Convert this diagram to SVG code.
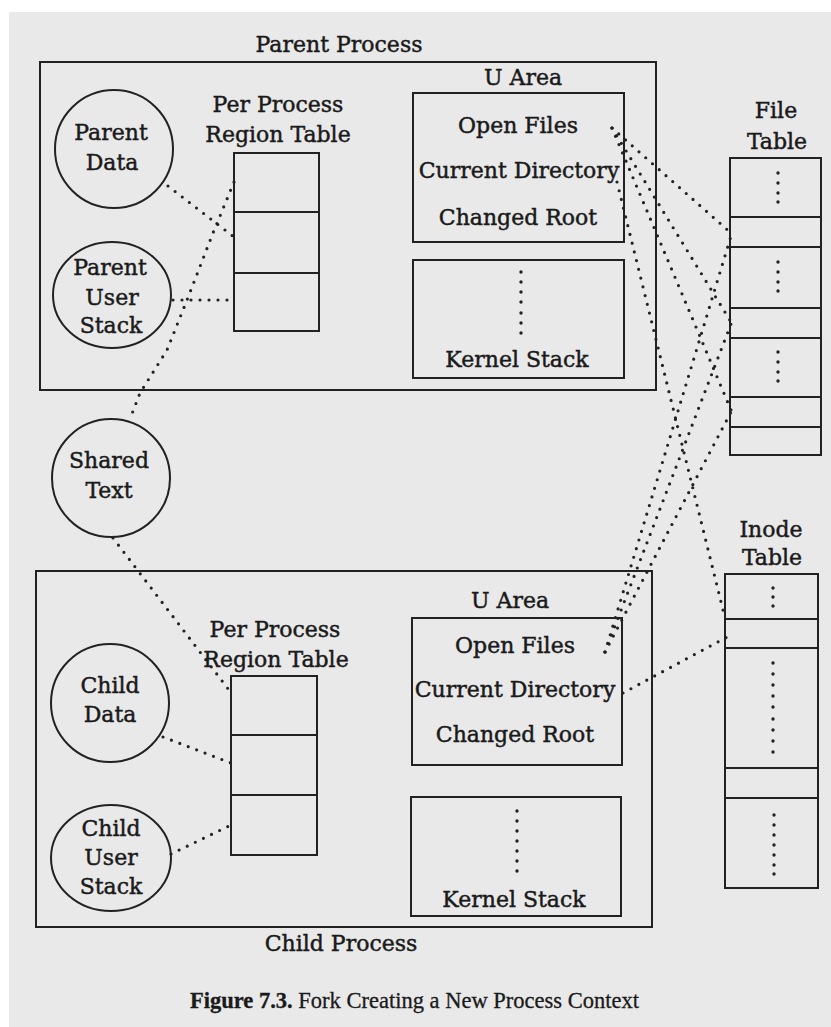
<svg xmlns="http://www.w3.org/2000/svg" width="831" height="1027" viewBox="0 0 831 1027">
<style>
.t{font-family:"DejaVu Serif","Liberation Serif",serif;font-size:22px;fill:#1a1a1a;stroke:#1a1a1a;stroke-width:0.45;text-anchor:middle}
.cap{font-family:"Liberation Serif","Times New Roman",serif;font-size:22.5px;fill:#1a1a1a;stroke:#1a1a1a;stroke-width:0.3}
.box{fill:none;stroke:#222;stroke-width:2}
.dl{fill:none;stroke:#222;stroke-width:3.2;stroke-linecap:round;stroke-dasharray:0 9}
.dot{fill:#222}
</style>
<defs>
<circle id="d" r="1.7" class="dot"/>
</defs>
<rect x="0" y="0" width="831" height="1027" fill="#ffffff"/>
<rect x="9" y="12" width="822" height="1015" fill="#e9e9e9"/>

<g id="parent-process">
<rect class="box" x="40" y="62" width="616" height="328"/>
<text class="t" x="339" y="52">Parent Process</text>
</g>

<g id="parent-data">
<circle class="box" cx="114" cy="149" r="59"/>
<text class="t" x="111" y="140">Parent</text>
<text class="t" x="112" y="170">Data</text>
</g>

<g id="parent-user-stack">
<ellipse class="box" cx="112" cy="295" rx="59" ry="53"/>
<text class="t" x="110" y="275">Parent</text>
<text class="t" x="112" y="305">User</text>
<text class="t" x="111" y="333">Stack</text>
</g>

<g id="parent-region-table">
<text class="t" x="278" y="112">Per Process</text>
<text class="t" x="278" y="142">Region Table</text>
<rect class="box" x="234" y="153" width="85" height="178"/>
<line class="box" x1="234" y1="212" x2="319" y2="212"/>
<line class="box" x1="234" y1="273" x2="319" y2="273"/>
</g>

<g id="parent-u-area">
<text class="t" x="523" y="85">U Area</text>
<rect class="box" x="413" y="93" width="211" height="149"/>
<text class="t" x="518" y="133">Open Files</text>
<text class="t" x="519" y="178">Current Directory</text>
<text class="t" x="518" y="225">Changed Root</text>
</g>

<g id="parent-kernel-stack">
<rect class="box" x="413" y="260" width="211" height="118"/>
<use href="#d" x="521" y="272"/><use href="#d" x="521" y="282"/><use href="#d" x="521" y="292"/><use href="#d" x="521" y="302"/><use href="#d" x="521" y="313"/><use href="#d" x="521" y="323"/><use href="#d" x="521" y="333"/>
<text class="t" x="517" y="367">Kernel Stack</text>
</g>

<g id="file-table">
<text class="t" x="776" y="118">File</text>
<text class="t" x="777" y="149">Table</text>
<rect class="box" x="730" y="158" width="91" height="297"/>
<line class="box" x1="730" y1="217" x2="821" y2="217"/>
<line class="box" x1="730" y1="247" x2="821" y2="247"/>
<line class="box" x1="730" y1="308" x2="821" y2="308"/>
<line class="box" x1="730" y1="338" x2="821" y2="338"/>
<line class="box" x1="730" y1="397" x2="821" y2="397"/>
<line class="box" x1="730" y1="427" x2="821" y2="427"/>
<use href="#d" x="778" y="173"/><use href="#d" x="778" y="183"/><use href="#d" x="778" y="193"/><use href="#d" x="778" y="202"/>
<use href="#d" x="778" y="262"/><use href="#d" x="778" y="272"/><use href="#d" x="778" y="282"/><use href="#d" x="778" y="291"/>
<use href="#d" x="778" y="352"/><use href="#d" x="778" y="362"/><use href="#d" x="778" y="372"/><use href="#d" x="778" y="381"/>
</g>

<g id="shared-text">
<circle class="box" cx="111" cy="478" r="59"/>
<text class="t" x="109" y="468">Shared</text>
<text class="t" x="109" y="498">Text</text>
</g>

<g id="inode-table">
<text class="t" x="771" y="537">Inode</text>
<text class="t" x="772" y="565">Table</text>
<rect class="box" x="725" y="574" width="93" height="314"/>
<line class="box" x1="725" y1="619" x2="818" y2="619"/>
<line class="box" x1="725" y1="648" x2="818" y2="648"/>
<line class="box" x1="725" y1="768" x2="818" y2="768"/>
<line class="box" x1="725" y1="798" x2="818" y2="798"/>
<use href="#d" x="773" y="588"/><use href="#d" x="773" y="597"/><use href="#d" x="773" y="606"/>
<use href="#d" x="773" y="663"/><use href="#d" x="773" y="674"/><use href="#d" x="773" y="685"/><use href="#d" x="773" y="696"/><use href="#d" x="773" y="707"/><use href="#d" x="773" y="719"/><use href="#d" x="773" y="730"/><use href="#d" x="773" y="741"/><use href="#d" x="773" y="752"/>
<use href="#d" x="774" y="815"/><use href="#d" x="774" y="825"/><use href="#d" x="774" y="835"/><use href="#d" x="774" y="845"/><use href="#d" x="774" y="855"/><use href="#d" x="774" y="865"/><use href="#d" x="774" y="874"/>
</g>

<g id="child-process">
<rect class="box" x="36" y="571" width="616" height="356"/>
<text class="t" x="341" y="951">Child Process</text>
</g>

<g id="child-data">
<circle class="box" cx="110" cy="703" r="59"/>
<text class="t" x="110" y="693">Child</text>
<text class="t" x="110" y="722">Data</text>
</g>

<g id="child-user-stack">
<ellipse class="box" cx="111" cy="858" rx="60" ry="53"/>
<text class="t" x="111" y="836">Child</text>
<text class="t" x="111" y="865">User</text>
<text class="t" x="111" y="894">Stack</text>
</g>

<g id="child-region-table">
<text class="t" x="275" y="637">Per Process</text>
<text class="t" x="276" y="667">Region Table</text>
<rect class="box" x="231" y="676" width="86" height="179"/>
<line class="box" x1="231" y1="735" x2="317" y2="735"/>
<line class="box" x1="231" y1="795" x2="317" y2="795"/>
</g>

<g id="child-u-area">
<text class="t" x="510" y="608">U Area</text>
<rect class="box" x="412" y="618" width="210" height="147"/>
<text class="t" x="515" y="653">Open Files</text>
<text class="t" x="515" y="697">Current Directory</text>
<text class="t" x="515" y="742">Changed Root</text>
</g>

<g id="child-kernel-stack">
<rect class="box" x="411" y="797" width="210" height="119"/>
<use href="#d" x="517" y="811"/><use href="#d" x="517" y="821"/><use href="#d" x="517" y="831"/><use href="#d" x="517" y="841"/><use href="#d" x="517" y="851"/><use href="#d" x="517" y="861"/><use href="#d" x="517" y="871"/>
<text class="t" x="514" y="907">Kernel Stack</text>
</g>

<g id="connectors">
<path class="dl" d="M234 182 L213 233 L187 300 L167 350 L140 393 L130 419"/>
<path class="dl" d="M168 186 L234 237"/>
<path class="dl" d="M173 300 L234 300"/>
<path class="dl" d="M113 538 L232 694"/>
<path class="dl" d="M163 737 L231 763"/>
<path class="dl" d="M171 854 L231 825"/>
<path class="dl" d="M612 128 L731 233"/>
<path class="dl" d="M612 128 L731 322"/>
<path class="dl" d="M612 128 L731 410"/>
<path class="dl" d="M617 182 L725 618"/>
<path class="dl" d="M605 652 L731 236"/>
<path class="dl" d="M605 652 L731 324"/>
<path class="dl" d="M605 652 L731 412"/>
<path class="dl" d="M623 693 L727 637"/>
</g>

<g id="caption">
<text class="cap" x="190" y="1008"><tspan font-weight="bold">Figure 7.3.</tspan>  Fork Creating a New Process Context</text>
</g>
</svg>
